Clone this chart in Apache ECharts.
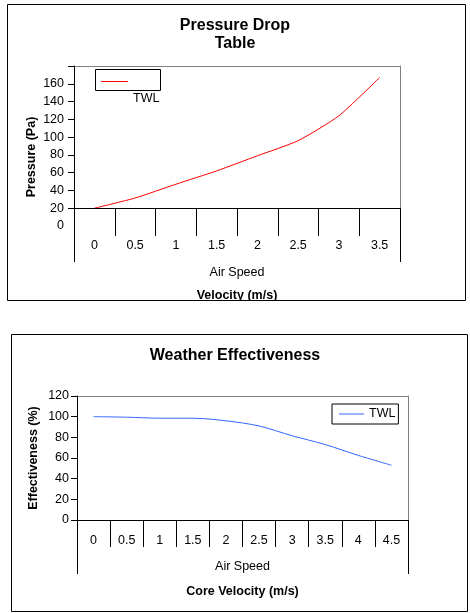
<!DOCTYPE html>
<html><head><meta charset="utf-8">
<script src="https://cdn.jsdelivr.net/npm/echarts@6/dist/echarts.min.js"></script>
<style>html,body{margin:0;padding:0;background:#fff}#c{width:470px;height:613px}</style>
</head><body><div id="c"></div>
<script>
const pressureCategories = ['0', '0.5', '1', '1.5', '2', '2.5', '3', '3.5'];
const pressureValues = [20, 31.5, 47, 62, 79, 96, 124, 167];
const pressureTickLabels = [0, 20, 40, 60, 80, 100, 120, 140, 160];
const pressureTicks = [20, 40, 60, 80, 100, 120, 140, 160, 180];
const effCategories = ['0', '0.5', '1', '1.5', '2', '2.5', '3', '3.5', '4', '4.5'];
const effValues = [100, 99.5, 98.5, 98.5, 96, 91, 81.5, 73, 62.5, 53];
const effTickLabels = [0, 20, 40, 60, 80, 100, 120];
const groupLabel = ['Air Speed'];

const FONT = '"Liberation Sans", Arial, sans-serif';
const txt = (extra) => Object.assign({ fontFamily: FONT, fontSize: 12.5, color: '#000' }, extra || {});
const black = { color: '#000', width: 1 };
const gray = { color: '#808080', width: 1 };

function catAxis(grid, data, offset, tickLen, margin, extra) {
  return Object.assign({
    gridIndex: grid, type: 'category', data: data, position: 'bottom', offset: offset,
    boundaryGap: true, z: 5,
    axisLine: { show: true, onZero: false, lineStyle: black },
    axisTick: { show: true, length: tickLen, interval: 0, lineStyle: black },
    axisLabel: txt({ margin: margin, interval: 0 }),
    splitLine: { show: false }
  }, extra || {});
}
function topAxis(grid, data) {
  return {
    gridIndex: grid, type: 'category', data: data, position: 'top', boundaryGap: true,
    axisLine: { show: true, onZero: false, lineStyle: gray },
    axisTick: { show: false }, axisLabel: { show: false }, splitLine: { show: false }
  };
}
function rightAxis(grid, max) {
  return {
    gridIndex: grid, type: 'value', min: 0, max: max, position: 'right', z: 0,
    axisLine: { show: true, lineStyle: gray },
    axisTick: { show: false }, axisLabel: { show: false }, splitLine: { show: false }
  };
}

const option = {
  backgroundColor: '#fff',
  animation: false,
  title: [
    { text: 'Pressure Drop\nTable', left: 'center', top: 17, padding: [0, 0, 0, 6],
      textStyle: { fontFamily: FONT, fontSize: 16, fontWeight: 'bold', color: '#000', lineHeight: 18 } },
    { text: 'Weather Effectiveness', left: 'center', top: 347, padding: [0, 0, 0, 12],
      textStyle: { fontFamily: FONT, fontSize: 16, fontWeight: 'bold', color: '#000', lineHeight: 18 } }
  ],
  legend: [
    { data: ['TWL pressure'], formatter: () => '{a|TWL}', left: 101, top: 81, padding: 0,
      icon: 'rect', itemWidth: 27, itemHeight: 1, selectedMode: false,
      textStyle: txt({ rich: { a: txt({ padding: [34, 0, 0, 0] }) } }) },
    { data: ['TWL effectiveness'], formatter: () => 'TWL', left: 332, top: 404, padding: [3, 3, 3, 7],
      icon: 'rect', itemWidth: 25, itemHeight: 1, selectedMode: false, borderColor: '#000', borderWidth: 1,
      backgroundColor: '#fff', textStyle: txt({ lineHeight: 14 }) }
  ],
  grid: [
    { left: 74, top: 66, width: 326, height: 160, containLabel: false },
    { left: 77, top: 396, width: 331, height: 124, containLabel: false }
  ],
  xAxis: [
    catAxis(0, pressureCategories, -18, 28, 31),
    catAxis(0, groupLabel, -18, 54, 58, {
      axisLine: { show: false },
      name: 'Velocity (m/s)', nameLocation: 'middle', nameGap: 81, nameMoveOverlap: false,
      nameTextStyle: txt({ fontWeight: 'bold' })
    }),
    topAxis(0, pressureCategories),
    catAxis(1, effCategories, 0, 27, 14),
    catAxis(1, groupLabel, 0, 54, 40, {
      axisLine: { show: false },
      name: 'Core Velocity (m/s)', nameLocation: 'middle', nameGap: 65, nameMoveOverlap: false,
      nameTextStyle: txt({ fontWeight: 'bold' })
    }),
    topAxis(1, effCategories)
  ],
  yAxis: [
    { gridIndex: 0, type: 'value', min: 0, max: 180, interval: 20, z: 4,
      axisLine: { show: true, onZero: false, lineStyle: black },
      axisTick: { show: true, length: 6, customValues: pressureTicks, lineStyle: black },
      axisLabel: txt({ customValues: pressureTickLabels, margin: 10 }),
      splitLine: { show: false },
      name: 'Pressure (Pa)', nameLocation: 'middle', nameGap: 36, nameMoveOverlap: false,
      nameTextStyle: txt({ fontWeight: 'bold', padding: [0, 22, 0, 0] }) },
    rightAxis(0, 180),
    { gridIndex: 1, type: 'value', min: 0, max: 120, interval: 20, z: 4,
      axisLine: { show: true, onZero: false, lineStyle: black },
      axisTick: { show: true, length: 6, lineStyle: black },
      axisLabel: txt({ margin: 8 }),
      splitLine: { show: false },
      name: 'Effectiveness (%)', nameLocation: 'middle', nameGap: 37, nameMoveOverlap: false,
      nameTextStyle: txt({ fontWeight: 'bold' }) },
    rightAxis(1, 120)
  ],
  series: [
    { type: 'line', name: 'TWL pressure', xAxisIndex: 0, yAxisIndex: 0, data: pressureValues,
      symbol: 'none', smooth: 0.2, lineStyle: { color: '#ff0000', width: 1 }, itemStyle: { color: '#ff0000' } },
    { type: 'line', name: 'TWL effectiveness', xAxisIndex: 3, yAxisIndex: 2, data: effValues,
      symbol: 'none', smooth: 0.3, lineStyle: { color: '#3366ff', width: 1 }, itemStyle: { color: '#3366ff' } }
  ],
  graphic: [
    { type: 'rect', z: 100, shape: { x: 0, y: 300.5, width: 470, height: 34 }, style: { fill: '#fff' }, silent: true },
    { type: 'rect', z: 101, shape: { x: 7.5, y: 4.5, width: 458, height: 296 }, style: { fill: 'none', stroke: '#000', lineWidth: 1 }, silent: true },
    { type: 'rect', z: 101, shape: { x: 11.5, y: 334.5, width: 456, height: 277 }, style: { fill: 'none', stroke: '#000', lineWidth: 1 }, silent: true },
    { type: 'rect', z: 101, shape: { x: 95.5, y: 69.5, width: 65, height: 21 }, style: { fill: 'none', stroke: '#000', lineWidth: 1 }, silent: true }
  ]
};
const chart = echarts.init(document.getElementById('c'), null, { renderer: 'canvas' });
chart.setOption(option);
</script>
</body></html>
